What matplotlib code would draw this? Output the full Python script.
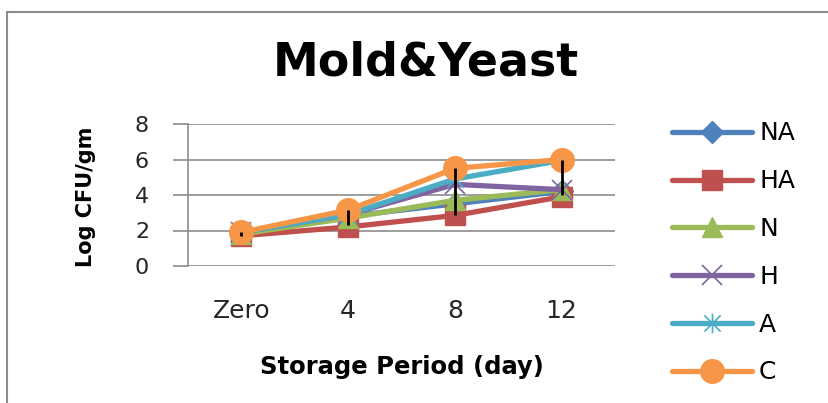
import matplotlib
matplotlib.use("Agg")
import matplotlib.pyplot as plt
from matplotlib.path import Path
from matplotlib.patches import Rectangle
import numpy as np

plt.rcParams['font.family'] = ['DejaVu Sans']

categories = ["Zero", "4", "8", "12"]
series_names = ["NA", "HA", "N", "H", "A", "C"]
NA = [1.8, 2.8, 3.5, 4.2]
HA = [1.7, 2.2, 2.85, 3.9]
N = [1.8, 2.7, 3.7, 4.3]
H = [1.9, 2.9, 4.6, 4.3]
A = [1.9, 2.9, 4.9, 5.95]
C = [1.9, 3.15, 5.5, 6.0]
C_err_low = [0.2, 0.85, 2.6, 2.0]
yticks = [0, 2, 4, 6, 8]

colors = {"NA": "#4F81BD", "HA": "#C0504D", "N": "#9BBB59",
          "H": "#8064A2", "A": "#4BACC6", "C": "#F79646"}

star = Path([(-1, -1), (1, 1), (-1, 1), (1, -1), (0, -1.2), (0, 1.2)],
            [Path.MOVETO, Path.LINETO, Path.MOVETO, Path.LINETO, Path.MOVETO, Path.LINETO])

styles = {
    "NA": dict(marker="D", ms=11),
    "HA": dict(marker="s", ms=15),
    "N": dict(marker="^", ms=15),
    "H": dict(marker="x", ms=14, mew=1.2),
    "A": dict(marker=star, ms=14, mew=1.2),
    "C": dict(marker="o", ms=17),
}
data = {"NA": NA, "HA": HA, "N": N, "H": H, "A": A, "C": C}

fig = plt.figure(figsize=(8.29, 4.03), dpi=100)
fig.patches.append(Rectangle((7/829, -0.1), 1.1, 1 - 12/403 + 0.1, transform=fig.transFigure,
                             fill=False, edgecolor="#8c8c8c", lw=1.5))

ax = fig.add_axes([188/829, 1 - 266/403, (615-188)/829, (266-124)/403])
x = np.arange(len(categories))
handles = []
for name in series_names:
    st = styles[name]
    h, = ax.plot(x, data[name], color=colors[name], lw=3.8, marker=st["marker"],
                 ms=st["ms"], mew=st.get("mew", 1), mec=colors[name], mfc=colors[name],
                 label=name, solid_capstyle="round", zorder=3)
    handles.append(h)

ax.errorbar(x, C, yerr=[C_err_low, [0]*4], fmt="none", ecolor="black", elinewidth=2, capsize=0, zorder=5)

ax.set_xlim(-0.5, len(categories) - 0.5)
ax.set_ylim(0, 8)
ax.set_yticks(yticks)
ax.set_yticklabels([str(v) for v in yticks])
ax.set_xticks(x)
ax.set_xticklabels(categories)
ax.grid(axis="y", color="#8c8c8c", lw=1.2)
ax.set_axisbelow(True)
for s in ["top", "right", "bottom"]:
    ax.spines[s].set_visible(False)
ax.spines["left"].set_color("#8c8c8c")
ax.spines["left"].set_linewidth(1.2)
ax.tick_params(axis="y", length=11, color="#8c8c8c", width=1.2, labelsize=16, pad=17, labelcolor="#262626")
ax.tick_params(axis="x", length=0, labelsize=18, pad=24, labelcolor="#262626")

ax.set_ylabel("Log CFU/gm", fontsize=15, fontweight="bold")
ax.yaxis.set_label_coords(-0.215, 0.49)
ax.set_xlabel("Storage Period (day)", fontsize=17.5, fontweight="bold")
ax.xaxis.set_label_coords(0.5, -0.625)
fig.text(426/829, 1 - 75/403, "Mold&Yeast", fontsize=33, fontweight="bold", ha="center", va="baseline")

fig.legend(handles=handles, loc="upper left", bbox_to_anchor=(649/829, 1 - 99/403),
           frameon=False, fontsize=18, handlelength=3.2, labelspacing=0.95, handletextpad=0.3,
           numpoints=1)

fig.savefig("out.png", dpi=100)
